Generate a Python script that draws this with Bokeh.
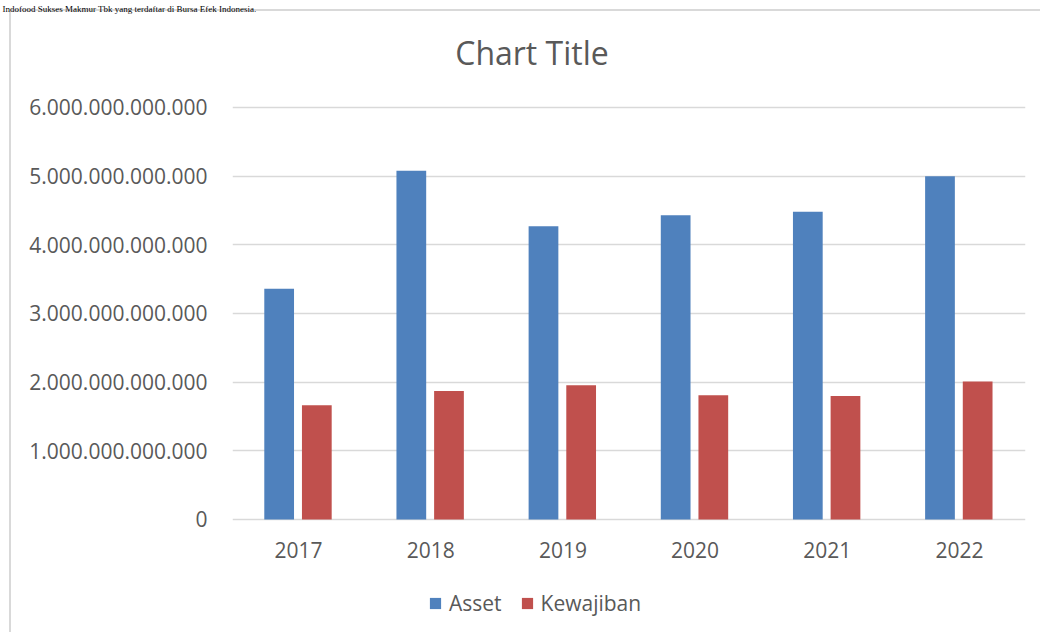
from bokeh.plotting import figure
from bokeh.models import (ColumnDataSource, FactorRange, Range1d, FixedTicker, Legend,
                          LegendItem, Title, LabelSet, Label)
from bokeh.core.properties import value
from bokeh.transform import dodge
from bokeh.embed import file_html
from bokeh.resources import INLINE

years = ["2017", "2018", "2019", "2020", "2021", "2022"]
asset = [3.36e12, 5.08e12, 4.27e12, 4.43e12, 4.48e12, 5.00e12]
kewajiban = [1.665e12, 1.87e12, 1.955e12, 1.81e12, 1.80e12, 2.01e12]
y_ticks = [0, 1e12, 2e12, 3e12, 4e12, 5e12, 6e12]
y_tick_labels = ["0", "1.000.000.000.000", "2.000.000.000.000", "3.000.000.000.000",
                 "4.000.000.000.000", "5.000.000.000.000", "6.000.000.000.000"]
series_names = ["Asset", "Kewajiban"]
title_text = "Chart Title"
header_text = "Indofood Sukses Makmur Tbk yang terdaftar di Bursa Efek Indonesia."

FONT = "Open Sans"
TXT = "#595959"
GRID = "#D9D9D9"

src = ColumnDataSource(dict(year=years, asset=asset, kewajiban=kewajiban))

# chart-area border (left and top edges) painted behind a transparent canvas
border_bg = ("linear-gradient(#D9D9D9,#D9D9D9) 9px 9px / 2px 640px no-repeat, "
             "linear-gradient(#D9D9D9,#D9D9D9) 9px 9px / 1040px 2px no-repeat")

# the plotting frame spans from just under the header to the bottom, so that the title,
# the category labels and the legend are all drawn inside it
p = figure(width=1040, height=632, output_backend="svg", toolbar_location=None,
           title=None, x_axis_location=None,
           x_range=FactorRange(*years, range_padding=0),
           y_range=Range1d(-1.6456e12, 7.3686e12),
           min_border_left=232, min_border_right=15, min_border_top=13, min_border_bottom=0,
           styles={"background": border_bg})
p.outline_line_color = None
p.background_fill_color = "white"
p.border_fill_color = None

p.add_layout(Title(text=header_text, align="left", offset=-230, standoff=0,
                   vertical_align="bottom", text_font="Liberation Serif",
                   text_font_size="9px", text_font_style="normal", text_color="black"),
             "above")

p.add_layout(Label(x=2.266, y=6.80e12, text=title_text, text_font=FONT,
                   text_font_size="32px", text_color=TXT, text_align="center",
                   text_baseline="alphabetic"))

r1 = p.vbar(x=dodge("year", -0.147, range=p.x_range), top="asset", width=0.225,
            source=src, fill_color="#4F81BD", line_color=None)
r2 = p.vbar(x=dodge("year", 0.138, range=p.x_range), top="kewajiban", width=0.225,
            source=src, fill_color="#C0504D", line_color=None)

p.xgrid.grid_line_color = None
p.ygrid.grid_line_color = GRID
p.ygrid.grid_line_width = 1.3

yax = p.yaxis[0]
yax.ticker = FixedTicker(ticks=y_ticks)
yax.major_label_overrides = {float(t): l for t, l in zip(y_ticks, y_tick_labels)}
yax.axis_line_color = None
yax.major_tick_line_color = None
yax.minor_tick_line_color = None
yax.major_tick_out = 0
yax.major_tick_in = 0
yax.minor_tick_out = 0
yax.major_label_text_font = FONT
yax.major_label_text_font_size = "21px"
yax.major_label_text_color = TXT
yax.major_label_standoff = 25

# category labels under the zero line
p.add_layout(LabelSet(x="year", y=0, text="year", source=src, y_offset=-31,
                      text_align="center", text_baseline="middle",
                      text_font=value(FONT), text_font_size=value("21px"),
                      text_color=TXT))

legend = Legend(items=[LegendItem(label=series_names[0], renderers=[r1]),
                       LegendItem(label=series_names[1], renderers=[r2])],
                orientation="horizontal", location=(196, 15),
                label_text_font=FONT, label_text_font_size="21px", label_text_color=TXT,
                glyph_width=14, glyph_height=14, label_standoff=7, spacing=18,
                padding=0, margin=0, border_line_color=None, background_fill_alpha=0)
p.add_layout(legend, "center")

open("out.html", "w").write(file_html(p, INLINE))
